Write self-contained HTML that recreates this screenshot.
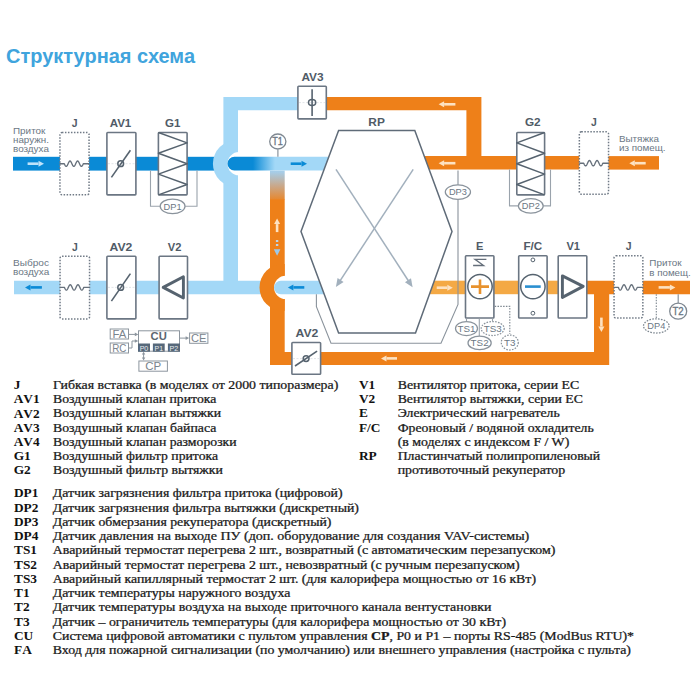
<!DOCTYPE html><html><head><meta charset="utf-8"><style>html,body{margin:0;padding:0;background:#fff;}svg{display:block;}</style></head><body><svg width="700" height="700" viewBox="0 0 700 700">
<defs><linearGradient id="gTop" x1="253" y1="0" x2="275" y2="0" gradientUnits="userSpaceOnUse"><stop offset="0" stop-color="#0a8ad6"/><stop offset="1" stop-color="#a3d8f7"/></linearGradient><linearGradient id="gVert" x1="0" y1="172" x2="0" y2="203" gradientUnits="userSpaceOnUse"><stop offset="0" stop-color="#a6cde8"/><stop offset="0.45" stop-color="#c9a88a"/><stop offset="1" stop-color="#ee8019"/></linearGradient><clipPath id="c1"><rect x="200" y="130" width="38" height="70"/></clipPath><clipPath id="c2"><rect x="245" y="255" width="39.7" height="70"/></clipPath><clipPath id="c1b"><rect x="200" y="130" width="39" height="70"/></clipPath><clipPath id="c2b"><rect x="245" y="255" width="40.7" height="70"/></clipPath></defs>
<rect width="700" height="700" fill="#fff"/>
<text x="6" y="63.1" font-family="Liberation Sans" font-weight="bold" font-size="20" fill="#40a4dd" textLength="189" lengthAdjust="spacingAndGlyphs">Структурная схема</text>
<rect x="13.00" y="156.80" width="207.00" height="13.80" fill="#0a8ad6" />
<path d="M223.4,97 H300 V110.3 H238 V280.7 H262 V294.2 H14 V280.7 H223.4 Z" fill="#a3d8f7"/>
<path d="M320,97 H481.4 V156.1 H579.5 V169.6 H400 V156.1 H466.4 V110.3 H320 Z" fill="#ee8019"/>
<rect x="605.00" y="156.10" width="54.00" height="13.50" fill="#ee8019" />
<circle cx="236.4" cy="163.7" r="23.5" fill="#a3d8f7" clip-path="url(#c1)"/>
<circle cx="239.1" cy="163.7" r="11.6" fill="#fff" clip-path="url(#c1b)"/>
<path d="M234.4,156.8 H335 V170.6 H234.4 A6.9,6.9 0 0 1 234.4,156.8 Z" fill="url(#gTop)"/>
<rect x="270.00" y="170.60" width="14.70" height="29.40" fill="url(#gVert)" />
<path d="M270,199.5 H284.7 V352 H594 V294.2 H572 V280.7 H690 V294.2 H609.2 V365 H270 Z" fill="#ee8019"/>
<circle cx="283" cy="287.45" r="23.5" fill="#ee8019" clip-path="url(#c2)"/>
<circle cx="285.7" cy="287.45" r="11.6" fill="#fff" clip-path="url(#c2b)"/>
<path d="M280.8,280.7 H330 V294.2 H280.8 A6.75,6.75 0 0 1 280.8,280.7 Z" fill="#a3d8f7"/>
<rect x="420.00" y="280.70" width="152.00" height="13.50" fill="#f4a945" />
<path d="M338.6,130.5 L414.8,130.5 L452,231.6 L415.5,332.9 L338.6,332.9 L301,231.6 Z" fill="#fff" stroke="#5f6b78" stroke-width="1.5"/>
<text x="376.60" y="126.30" text-anchor="middle" font-family="Liberation Sans" font-weight="bold" font-size="10.6" fill="#505b67" textLength="16.5" lengthAdjust="spacingAndGlyphs">RP</text>
<path d="M316.4,294.2 V306.6 L331,343.2 H441 L458,304.4 V170.6" stroke="#8a939c" stroke-width="1.1" fill="none" />
<line x1="336.00" y1="169.30" x2="408.52" y2="281.01" stroke="#a2b0bd" stroke-width="1.5" />
<path d="M412.60,287.30 L404.95,282.13 L410.99,278.21 Z" fill="#a2b0bd"/>
<line x1="413.20" y1="169.30" x2="340.01" y2="280.83" stroke="#a2b0bd" stroke-width="1.5" />
<path d="M335.90,287.10 L337.55,278.02 L343.57,281.97 Z" fill="#a2b0bd"/>
<rect x="59.95" y="132.55" width="29.10" height="62.30" rx="2" fill="#fff" stroke="#707a86" stroke-width="1.5" stroke-dasharray="1.5 1.5"/>
<path d="M59.80,163.70 L64.30,163.70 L64.62,164.40 L64.93,165.05 L65.25,165.61 L65.57,166.04 L65.88,166.31 L66.20,166.40 L66.52,166.31 L66.83,166.04 L67.15,165.61 L67.47,165.05 L67.79,164.40 L68.10,163.70 L68.42,163.00 L68.74,162.35 L69.05,161.79 L69.37,161.36 L69.69,161.09 L70.00,161.00 L70.32,161.09 L70.64,161.36 L70.96,161.79 L71.27,162.35 L71.59,163.00 L71.91,163.70 L72.22,164.40 L72.54,165.05 L72.86,165.61 L73.18,166.04 L73.49,166.31 L73.81,166.40 L74.13,166.31 L74.44,166.04 L74.76,165.61 L75.08,165.05 L75.39,164.40 L75.71,163.70 L76.03,163.00 L76.35,162.35 L76.66,161.79 L76.98,161.36 L77.30,161.09 L77.61,161.00 L77.93,161.09 L78.25,161.36 L78.56,161.79 L78.88,162.35 L79.20,163.00 L79.52,163.70 L79.83,164.40 L80.15,165.05 L80.47,165.61 L80.78,166.04 L81.10,166.31 L81.42,166.40 L81.73,166.31 L82.05,166.04 L82.37,165.61 L82.69,165.05 L83.00,164.40 L83.32,163.70 L89.20,163.70" stroke="#66707b" stroke-width="1.35" fill="none" stroke-linejoin="round"/>
<text x="74.60" y="127.30" text-anchor="middle" font-family="Liberation Sans" font-weight="bold" font-size="10.6" fill="#505b67" textLength="5.8" lengthAdjust="spacingAndGlyphs">J</text>
<rect x="106.90" y="132.50" width="29.00" height="62.40" rx="0.8" fill="#fff" stroke="#6b7683" stroke-width="1.6"/>
<line x1="108" y1="163.7" x2="135" y2="163.7" stroke="#d9dde2" stroke-width="0.8" stroke-dasharray="2 1.5"/>
<line x1="111.40" y1="177.40" x2="130.40" y2="150.30" stroke="#56636f" stroke-width="1.6" />
<circle cx="120.70" cy="163.70" r="2.9" fill="none" stroke="#56636f" stroke-width="1.5"/>
<text x="120.50" y="127.30" text-anchor="middle" font-family="Liberation Sans" font-weight="bold" font-size="10.6" fill="#505b67" textLength="21.6" lengthAdjust="spacingAndGlyphs">AV1</text>
<rect x="158.40" y="132.50" width="28.70" height="62.40" rx="0.8" fill="#fff" stroke="#6b7683" stroke-width="1.6"/>
<path d="M158.40,132.50 L187.10,142.90 L158.40,153.30 L187.10,163.70 L158.40,174.10 L187.10,184.50 L158.40,194.90" stroke="#56636f" stroke-width="1.5" fill="none" stroke-linejoin="round"/>
<text x="172.70" y="127.30" text-anchor="middle" font-family="Liberation Sans" font-weight="bold" font-size="10.6" fill="#505b67" textLength="15.4" lengthAdjust="spacingAndGlyphs">G1</text>
<path d="M150.5,170.6 V206.3 H197 V170.6" stroke="#9aa3ac" stroke-width="1.1" fill="none" />
<ellipse cx="172.60" cy="206.30" rx="12.4" ry="7.3" fill="#fff" stroke="#8a939c" stroke-width="1.25"/>
<text x="172.60" y="209.60" text-anchor="middle" font-family="Liberation Sans" font-size="9.0" fill="#6b7784" textLength="18" lengthAdjust="spacingAndGlyphs">DP1</text>
<rect x="297.90" y="86.20" width="28.40" height="32.70" rx="0.8" fill="#fff" stroke="#6b7683" stroke-width="1.6"/>
<line x1="299" y1="102.6" x2="325" y2="102.6" stroke="#d9dde2" stroke-width="0.8" stroke-dasharray="2 1.5"/>
<line x1="312.10" y1="89.30" x2="312.10" y2="116.00" stroke="#56636f" stroke-width="1.6" />
<ellipse cx="312.1" cy="102.6" rx="3.6" ry="3.0" fill="none" stroke="#56636f" stroke-width="1.5"/>
<text x="312.50" y="81.40" text-anchor="middle" font-family="Liberation Sans" font-weight="bold" font-size="10.6" fill="#505b67" textLength="22.2" lengthAdjust="spacingAndGlyphs">AV3</text>
<line x1="277.90" y1="149.50" x2="277.90" y2="156.80" stroke="#8a939c" stroke-width="1.2" />
<ellipse cx="277.8" cy="141.5" rx="8.1" ry="7.5" fill="#fff" stroke="#7f8891" stroke-width="1.3"/>
<text x="277.60" y="145.10" text-anchor="middle" font-family="Liberation Sans" font-size="10.2" fill="#6b7784" stroke="#6b7784" stroke-width="0.35" textLength="10.6" lengthAdjust="spacingAndGlyphs">T1</text>
<line x1="27.60" y1="163.70" x2="38.50" y2="163.70" stroke="#bfe3fa" stroke-width="2.6"/>
<path d="M44.00,163.70 L38.50,160.70 L38.50,166.70 Z" fill="#bfe3fa"/>
<line x1="290.70" y1="163.70" x2="301.50" y2="163.70" stroke="#0a8ad6" stroke-width="2.6"/>
<path d="M307.00,163.70 L301.50,160.70 L301.50,166.70 Z" fill="#0a8ad6"/>
<line x1="455.40" y1="104.30" x2="444.10" y2="104.30" stroke="#fde2c2" stroke-width="2.6"/>
<path d="M438.60,104.30 L444.10,101.30 L444.10,107.30 Z" fill="#fde2c2"/>
<line x1="455.40" y1="163.20" x2="444.10" y2="163.20" stroke="#fde2c2" stroke-width="2.6"/>
<path d="M438.60,163.20 L444.10,160.20 L444.10,166.20 Z" fill="#fde2c2"/>
<line x1="645.70" y1="163.20" x2="634.80" y2="163.20" stroke="#fde2c2" stroke-width="2.6"/>
<path d="M629.30,163.20 L634.80,160.20 L634.80,166.20 Z" fill="#fde2c2"/>
<ellipse cx="457.90" cy="192.10" rx="12.6" ry="7.3" fill="#fff" stroke="#8a939c" stroke-width="1.25"/>
<text x="457.90" y="195.40" text-anchor="middle" font-family="Liberation Sans" font-size="9.0" fill="#6b7784" textLength="18" lengthAdjust="spacingAndGlyphs">DP3</text>
<rect x="516.80" y="132.50" width="27.80" height="62.40" rx="0.8" fill="#fff" stroke="#6b7683" stroke-width="1.6"/>
<path d="M544.60,132.50 L516.80,142.90 L544.60,153.30 L516.80,163.70 L544.60,174.10 L516.80,184.50 L544.60,194.90" stroke="#56636f" stroke-width="1.5" fill="none" stroke-linejoin="round"/>
<text x="532.80" y="126.00" text-anchor="middle" font-family="Liberation Sans" font-weight="bold" font-size="10.6" fill="#505b67" textLength="15.7" lengthAdjust="spacingAndGlyphs">G2</text>
<path d="M509.5,169.6 V205.9 H550.5 V169.6" stroke="#9aa3ac" stroke-width="1.1" fill="none" />
<ellipse cx="530.80" cy="205.90" rx="12.4" ry="7.3" fill="#fff" stroke="#8a939c" stroke-width="1.25"/>
<text x="530.80" y="209.20" text-anchor="middle" font-family="Liberation Sans" font-size="9.0" fill="#6b7784" textLength="18" lengthAdjust="spacingAndGlyphs">DP2</text>
<rect x="579.35" y="131.85" width="29.20" height="62.40" rx="2" fill="#fff" stroke="#707a86" stroke-width="1.5" stroke-dasharray="1.5 1.5"/>
<path d="M579.20,163.20 L583.71,163.20 L584.03,163.90 L584.35,164.55 L584.67,165.11 L584.99,165.54 L585.30,165.81 L585.62,165.90 L585.94,165.81 L586.26,165.54 L586.58,165.11 L586.89,164.55 L587.21,163.90 L587.53,163.20 L587.85,162.50 L588.17,161.85 L588.49,161.29 L588.80,160.86 L589.12,160.59 L589.44,160.50 L589.76,160.59 L590.08,160.86 L590.39,161.29 L590.71,161.85 L591.03,162.50 L591.35,163.20 L591.67,163.90 L591.98,164.55 L592.30,165.11 L592.62,165.54 L592.94,165.81 L593.26,165.90 L593.57,165.81 L593.89,165.54 L594.21,165.11 L594.53,164.55 L594.85,163.90 L595.17,163.20 L595.48,162.50 L595.80,161.85 L596.12,161.29 L596.44,160.86 L596.76,160.59 L597.07,160.50 L597.39,160.59 L597.71,160.86 L598.03,161.29 L598.35,161.85 L598.66,162.50 L598.98,163.20 L599.30,163.90 L599.62,164.55 L599.94,165.11 L600.26,165.54 L600.57,165.81 L600.89,165.90 L601.21,165.81 L601.53,165.54 L601.85,165.11 L602.16,164.55 L602.48,163.90 L602.80,163.20 L608.70,163.20" stroke="#66707b" stroke-width="1.35" fill="none" stroke-linejoin="round"/>
<text x="593.80" y="125.70" text-anchor="middle" font-family="Liberation Sans" font-weight="bold" font-size="10.6" fill="#505b67" textLength="5.8" lengthAdjust="spacingAndGlyphs">J</text>
<text x="13.00" y="133.80" text-anchor="start" font-family="Liberation Sans" font-size="9.2" fill="#6b7784" textLength="32.4" lengthAdjust="spacingAndGlyphs">Приток</text>
<text x="13.00" y="142.70" text-anchor="start" font-family="Liberation Sans" font-size="9.2" fill="#6b7784" textLength="35.9" lengthAdjust="spacingAndGlyphs">наружн.</text>
<text x="13.00" y="151.60" text-anchor="start" font-family="Liberation Sans" font-size="9.2" fill="#6b7784" textLength="35.9" lengthAdjust="spacingAndGlyphs">воздуха</text>
<text x="618.90" y="141.50" text-anchor="start" font-family="Liberation Sans" font-size="9.2" fill="#6b7784" textLength="40.1" lengthAdjust="spacingAndGlyphs">Вытяжка</text>
<text x="618.90" y="150.70" text-anchor="start" font-family="Liberation Sans" font-size="9.2" fill="#6b7784" textLength="46.7" lengthAdjust="spacingAndGlyphs">из помещ.</text>
<rect x="60.05" y="256.15" width="29.50" height="62.80" rx="2" fill="#fff" stroke="#707a86" stroke-width="1.5" stroke-dasharray="1.5 1.5"/>
<path d="M59.90,287.40 L64.46,287.40 L64.78,288.10 L65.10,288.75 L65.42,289.31 L65.74,289.74 L66.07,290.01 L66.39,290.10 L66.71,290.01 L67.03,289.74 L67.35,289.31 L67.67,288.75 L67.99,288.10 L68.32,287.40 L68.64,286.70 L68.96,286.05 L69.28,285.49 L69.60,285.06 L69.92,284.79 L70.24,284.70 L70.56,284.79 L70.89,285.06 L71.21,285.49 L71.53,286.05 L71.85,286.70 L72.17,287.40 L72.49,288.10 L72.81,288.75 L73.14,289.31 L73.46,289.74 L73.78,290.01 L74.10,290.10 L74.42,290.01 L74.74,289.74 L75.06,289.31 L75.39,288.75 L75.71,288.10 L76.03,287.40 L76.35,286.70 L76.67,286.05 L76.99,285.49 L77.31,285.06 L77.63,284.79 L77.96,284.70 L78.28,284.79 L78.60,285.06 L78.92,285.49 L79.24,286.05 L79.56,286.70 L79.88,287.40 L80.21,288.10 L80.53,288.75 L80.85,289.31 L81.17,289.74 L81.49,290.01 L81.81,290.10 L82.13,290.01 L82.45,289.74 L82.78,289.31 L83.10,288.75 L83.42,288.10 L83.74,287.40 L89.70,287.40" stroke="#66707b" stroke-width="1.35" fill="none" stroke-linejoin="round"/>
<text x="74.80" y="250.70" text-anchor="middle" font-family="Liberation Sans" font-weight="bold" font-size="10.6" fill="#505b67" textLength="5.8" lengthAdjust="spacingAndGlyphs">J</text>
<rect x="106.90" y="256.20" width="29.00" height="62.70" rx="0.8" fill="#fff" stroke="#6b7683" stroke-width="1.6"/>
<line x1="108" y1="287.4" x2="135" y2="287.4" stroke="#d9dde2" stroke-width="0.8" stroke-dasharray="2 1.5"/>
<line x1="111.40" y1="301.10" x2="130.40" y2="273.60" stroke="#56636f" stroke-width="1.6" />
<circle cx="120.70" cy="287.40" r="2.9" fill="none" stroke="#56636f" stroke-width="1.5"/>
<text x="121.00" y="250.70" text-anchor="middle" font-family="Liberation Sans" font-weight="bold" font-size="10.6" fill="#505b67" textLength="22.8" lengthAdjust="spacingAndGlyphs">AV2</text>
<rect x="159.10" y="256.20" width="28.40" height="62.70" rx="0.8" fill="#fff" stroke="#6b7683" stroke-width="1.6"/>
<path d="M163.2,287.4 L183.4,276.8 L183.4,298.0 Z" stroke="#56636f" stroke-width="2.9" fill="none" stroke-linejoin="round"/>
<text x="174.60" y="250.70" text-anchor="middle" font-family="Liberation Sans" font-weight="bold" font-size="10.6" fill="#505b67" textLength="13.6" lengthAdjust="spacingAndGlyphs">V2</text>
<rect x="110.20" y="329.00" width="18.30" height="10.00" fill="#fff" stroke="#8c959e" stroke-width="1"/>
<text x="119.35" y="337.70" text-anchor="middle" font-family="Liberation Sans" font-size="10.5" fill="#7a848d" textLength="13.8" lengthAdjust="spacingAndGlyphs">FA</text>
<rect x="110.20" y="343.00" width="18.30" height="10.00" fill="#fff" stroke="#8c959e" stroke-width="1"/>
<text x="119.35" y="351.70" text-anchor="middle" font-family="Liberation Sans" font-size="10.5" fill="#7a848d" textLength="14.3" lengthAdjust="spacingAndGlyphs">RC</text>
<rect x="189.60" y="333.00" width="18.30" height="10.30" fill="#fff" stroke="#8c959e" stroke-width="1"/>
<text x="198.75" y="341.85" text-anchor="middle" font-family="Liberation Sans" font-size="10.5" fill="#7a848d" textLength="15.5" lengthAdjust="spacingAndGlyphs">CE</text>
<rect x="138.90" y="361.00" width="28.50" height="10.20" fill="#fff" stroke="#8c959e" stroke-width="1"/>
<text x="153.15" y="369.80" text-anchor="middle" font-family="Liberation Sans" font-size="10.5" fill="#7a848d" textLength="16" lengthAdjust="spacingAndGlyphs">CP</text>
<rect x="138.5" y="330.8" width="41" height="20.4" fill="#fff" stroke="#8c959e" stroke-width="1"/>
<text x="158.70" y="340.00" text-anchor="middle" font-family="Liberation Sans" font-weight="bold" font-size="10" fill="#5c6670" textLength="16.2" lengthAdjust="spacingAndGlyphs">CU</text>
<rect x="138.00" y="343.50" width="12.00" height="8.20" fill="#56687a" />
<text x="144.00" y="350.6" text-anchor="middle" font-family="Liberation Sans" font-size="7.6" fill="#e8ecf0" textLength="8.6" lengthAdjust="spacingAndGlyphs">P0</text>
<rect x="152.90" y="343.50" width="11.80" height="8.20" fill="#56687a" />
<text x="158.80" y="350.6" text-anchor="middle" font-family="Liberation Sans" font-size="7.6" fill="#e8ecf0" textLength="8.5" lengthAdjust="spacingAndGlyphs">P1</text>
<rect x="167.90" y="343.50" width="12.10" height="8.20" fill="#56687a" />
<text x="173.95" y="350.6" text-anchor="middle" font-family="Liberation Sans" font-size="7.6" fill="#e8ecf0" textLength="8.7" lengthAdjust="spacingAndGlyphs">P2</text>
<line x1="129.00" y1="334.40" x2="135.50" y2="334.40" stroke="#8c959e" stroke-width="1" />
<path d="M138.3,334.4 L134.8,332.6 L134.8,336.2 Z" fill="#8c959e"/>
<path d="M129,348 H132 V341 H135.5" stroke="#8c959e" stroke-width="1" fill="none" />
<path d="M138.3,341 L134.8,339.2 L134.8,342.8 Z" fill="#8c959e"/>
<line x1="180.00" y1="338.10" x2="186.30" y2="338.10" stroke="#8c959e" stroke-width="1" />
<path d="M189.1,338.1 L185.6,336.3 L185.6,339.9 Z" fill="#8c959e"/>
<line x1="143.60" y1="354.00" x2="143.60" y2="358.00" stroke="#8c959e" stroke-width="1" />
<path d="M143.6,351.7 L141.9,354.6 L145.3,354.6 Z M143.6,360.5 L141.9,357.6 L145.3,357.6 Z" fill="#8c959e"/>
<line x1="41.90" y1="287.40" x2="30.50" y2="287.40" stroke="#0a8ad6" stroke-width="2.6"/>
<path d="M25.00,287.40 L30.50,284.40 L30.50,290.40 Z" fill="#0a8ad6"/>
<line x1="304.30" y1="287.40" x2="293.40" y2="287.40" stroke="#0a8ad6" stroke-width="2.6"/>
<path d="M287.90,287.40 L293.40,284.40 L293.40,290.40 Z" fill="#0a8ad6"/>
<line x1="436.70" y1="287.70" x2="447.30" y2="287.70" stroke="#fde2c2" stroke-width="2.6"/>
<path d="M452.80,287.70 L447.30,284.70 L447.30,290.70 Z" fill="#fde2c2"/>
<line x1="658.60" y1="287.40" x2="669.90" y2="287.40" stroke="#fde2c2" stroke-width="2.6"/>
<path d="M675.40,287.40 L669.90,284.40 L669.90,290.40 Z" fill="#fde2c2"/>
<line x1="397.00" y1="358.40" x2="386.50" y2="358.40" stroke="#fde2c2" stroke-width="2.6"/>
<path d="M381.00,358.40 L386.50,355.40 L386.50,361.40 Z" fill="#fde2c2"/>
<line x1="277.10" y1="232.10" x2="277.10" y2="224.10" stroke="#fde2c2" stroke-width="2.6"/>
<path d="M277.10,218.60 L274.10,224.10 L280.10,224.10 Z" fill="#fde2c2"/>
<line x1="601.40" y1="317.60" x2="601.40" y2="326.50" stroke="#fde2c2" stroke-width="2.6"/>
<path d="M601.40,332.00 L598.40,326.50 L604.40,326.50 Z" fill="#fde2c2"/>
<rect x="275.90" y="240.00" width="2.40" height="2.00" fill="#bcd6ea" />
<rect x="275.90" y="244.00" width="2.40" height="2.00" fill="#bcd6ea" />
<path d="M273.8,249.3 L280.4,249.3 L277.1,255.7 Z" fill="#9cc9ea"/>
<rect x="291.90" y="342.50" width="28.70" height="31.70" rx="0.8" fill="#fff" stroke="#6b7683" stroke-width="1.6"/>
<line x1="293" y1="358.6" x2="319.5" y2="358.6" stroke="#d9dde2" stroke-width="0.8" stroke-dasharray="2 1.5"/>
<line x1="295.00" y1="366.00" x2="317.10" y2="351.10" stroke="#56636f" stroke-width="1.6" />
<circle cx="306.10" cy="358.60" r="2.9" fill="none" stroke="#56636f" stroke-width="1.5"/>
<text x="307.00" y="337.40" text-anchor="middle" font-family="Liberation Sans" font-weight="bold" font-size="10.6" fill="#505b67" textLength="22.8" lengthAdjust="spacingAndGlyphs">AV2</text>
<rect x="465.50" y="255.80" width="28.40" height="62.20" rx="0.8" fill="#fff" stroke="#6b7683" stroke-width="1.6"/>
<path d="M486.4,259.4 H475 L483.6,265.5 H473.1" stroke="#646e7a" stroke-width="1.3" fill="none" />
<circle cx="480" cy="286.6" r="12.2" fill="#fff" stroke="#56636f" stroke-width="1.5"/>
<path d="M471,286.6 H489 M480,279.5 V294" stroke="#e8922e" stroke-width="2.6" fill="none" />
<text x="479.70" y="250.00" text-anchor="middle" font-family="Liberation Sans" font-weight="bold" font-size="10.6" fill="#505b67" textLength="7.4" lengthAdjust="spacingAndGlyphs">E</text>
<rect x="518.70" y="255.80" width="28.40" height="62.20" rx="0.8" fill="#fff" stroke="#6b7683" stroke-width="1.6"/>
<circle cx="532.9" cy="286.6" r="12.2" fill="#fff" stroke="#56636f" stroke-width="1.5"/>
<line x1="525.00" y1="286.60" x2="540.70" y2="286.60" stroke="#2a8fd0" stroke-width="2.6" />
<circle cx="532.9" cy="259.9" r="1.9" fill="none" stroke="#56636f" stroke-width="1"/>
<circle cx="532.9" cy="313.2" r="1.9" fill="none" stroke="#56636f" stroke-width="1"/>
<text x="532.80" y="250.00" text-anchor="middle" font-family="Liberation Sans" font-weight="bold" font-size="10.6" fill="#505b67" textLength="18.8" lengthAdjust="spacingAndGlyphs">F/C</text>
<rect x="558.20" y="255.80" width="28.60" height="62.20" rx="0.8" fill="#fff" stroke="#6b7683" stroke-width="1.6"/>
<path d="M562.4,275.9 L583.2,286.4 L562.4,297.4 Z" stroke="#56636f" stroke-width="2.9" fill="none" stroke-linejoin="round"/>
<text x="573.20" y="250.00" text-anchor="middle" font-family="Liberation Sans" font-weight="bold" font-size="10.6" fill="#505b67" textLength="13.6" lengthAdjust="spacingAndGlyphs">V1</text>
<rect x="614.05" y="255.75" width="28.80" height="62.30" rx="2" fill="#fff" stroke="#707a86" stroke-width="1.5" stroke-dasharray="1.5 1.5"/>
<path d="M613.90,287.40 L618.35,287.40 L618.67,288.10 L618.98,288.75 L619.29,289.31 L619.61,289.74 L619.92,290.01 L620.24,290.10 L620.55,290.01 L620.86,289.74 L621.18,289.31 L621.49,288.75 L621.80,288.10 L622.12,287.40 L622.43,286.70 L622.75,286.05 L623.06,285.49 L623.37,285.06 L623.69,284.79 L624.00,284.70 L624.31,284.79 L624.63,285.06 L624.94,285.49 L625.26,286.05 L625.57,286.70 L625.88,287.40 L626.20,288.10 L626.51,288.75 L626.82,289.31 L627.14,289.74 L627.45,290.01 L627.77,290.10 L628.08,290.01 L628.39,289.74 L628.71,289.31 L629.02,288.75 L629.34,288.10 L629.65,287.40 L629.96,286.70 L630.28,286.05 L630.59,285.49 L630.90,285.06 L631.22,284.79 L631.53,284.70 L631.85,284.79 L632.16,285.06 L632.47,285.49 L632.79,286.05 L633.10,286.70 L633.41,287.40 L633.73,288.10 L634.04,288.75 L634.36,289.31 L634.67,289.74 L634.98,290.01 L635.30,290.10 L635.61,290.01 L635.92,289.74 L636.24,289.31 L636.55,288.75 L636.87,288.10 L637.18,287.40 L643.00,287.40" stroke="#66707b" stroke-width="1.35" fill="none" stroke-linejoin="round"/>
<text x="628.60" y="250.00" text-anchor="middle" font-family="Liberation Sans" font-weight="bold" font-size="10.6" fill="#505b67" textLength="5.8" lengthAdjust="spacingAndGlyphs">J</text>
<line x1="678.20" y1="294.20" x2="678.20" y2="303.00" stroke="#8a939c" stroke-width="1.2" />
<ellipse cx="678.2" cy="311.2" rx="8.5" ry="8.0" fill="#fff" stroke="#7f8891" stroke-width="1.3"/>
<text x="678.00" y="314.80" text-anchor="middle" font-family="Liberation Sans" font-size="10.2" fill="#6b7784" stroke="#6b7784" stroke-width="0.35" textLength="11.2" lengthAdjust="spacingAndGlyphs">T2</text>
<line x1="656.30" y1="294.20" x2="656.30" y2="318.80" stroke="#7d8790" stroke-width="1.1" stroke-dasharray="1.5 1.3"/>
<ellipse cx="656.30" cy="325.90" rx="12.8" ry="7.1" fill="#fff" stroke="#7d8790" stroke-width="1.25" stroke-dasharray="1.6 1.3"/>
<text x="656.30" y="329.20" text-anchor="middle" font-family="Liberation Sans" font-size="9.0" fill="#6b7784" textLength="18" lengthAdjust="spacingAndGlyphs">DP4</text>
<line x1="466.50" y1="318.80" x2="466.50" y2="321.50" stroke="#9aa3ac" stroke-width="1.1" />
<line x1="479.30" y1="318.80" x2="479.30" y2="336.20" stroke="#9aa3ac" stroke-width="1.1" />
<line x1="492.50" y1="318.80" x2="492.50" y2="321.50" stroke="#9aa3ac" stroke-width="1.1" />
<ellipse cx="466.50" cy="328.50" rx="11" ry="7" fill="#fff" stroke="#8a939c" stroke-width="1.25"/>
<text x="466.50" y="331.80" text-anchor="middle" font-family="Liberation Sans" font-size="9.0" fill="#6b7784" textLength="18" lengthAdjust="spacingAndGlyphs">TS1</text>
<ellipse cx="492.70" cy="328.50" rx="11.5" ry="7" fill="#fff" stroke="#8a939c" stroke-width="1.25" stroke-dasharray="1.6 1.3"/>
<text x="492.70" y="331.80" text-anchor="middle" font-family="Liberation Sans" font-size="9.0" fill="#6b7784" textLength="18" lengthAdjust="spacingAndGlyphs">TS3</text>
<ellipse cx="479.60" cy="342.90" rx="11.6" ry="6.7" fill="#fff" stroke="#8a939c" stroke-width="1.25"/>
<text x="479.60" y="346.20" text-anchor="middle" font-family="Liberation Sans" font-size="9.0" fill="#6b7784" textLength="18" lengthAdjust="spacingAndGlyphs">TS2</text>
<path d="M494.7,306.4 H509.8 V334" stroke="#7d8790" stroke-width="1.1" fill="none" stroke-dasharray="1.5 1.3"/>
<ellipse cx="509.80" cy="342.50" rx="8.5" ry="7.5" fill="#fff" stroke="#8a939c" stroke-width="1.25" stroke-dasharray="1.6 1.3"/>
<text x="509.80" y="345.80" text-anchor="middle" font-family="Liberation Sans" font-size="9.0" fill="#6b7784" textLength="11.5" lengthAdjust="spacingAndGlyphs">T3</text>
<text x="13.00" y="265.70" text-anchor="start" font-family="Liberation Sans" font-size="9.2" fill="#6b7784" textLength="36.0" lengthAdjust="spacingAndGlyphs">Выброс</text>
<text x="13.00" y="274.70" text-anchor="start" font-family="Liberation Sans" font-size="9.2" fill="#6b7784" textLength="36.2" lengthAdjust="spacingAndGlyphs">воздуха</text>
<text x="649.30" y="266.40" text-anchor="start" font-family="Liberation Sans" font-size="9.2" fill="#6b7784" textLength="32.4" lengthAdjust="spacingAndGlyphs">Приток</text>
<text x="649.30" y="275.70" text-anchor="start" font-family="Liberation Sans" font-size="9.2" fill="#6b7784" textLength="41.5" lengthAdjust="spacingAndGlyphs">в помещ.</text>
<text x="13.70" y="389.10" font-family="Liberation Serif" font-weight="bold" font-size="13.35" fill="#111" style="font-kerning:none" transform="matrix(1 0 0 0.8580 0 55.261)">J</text>
<text x="53.00" y="389.10" font-family="Liberation Serif" font-size="13.8" fill="#1a1a1a" stroke="#1a1a1a" stroke-width="0.3" textLength="285.3" lengthAdjust="spacingAndGlyphs" transform="matrix(1 0 0 0.83 0 66.147)">Гибкая вставка (в моделях от 2000 типоразмера)</text>
<text x="13.70" y="403.30" font-family="Liberation Serif" font-weight="bold" font-size="13.35" fill="#111" style="font-kerning:none" transform="matrix(1 0 0 0.8580 0 57.278)">AV1</text>
<text x="53.00" y="403.30" font-family="Liberation Serif" font-size="13.8" fill="#1a1a1a" stroke="#1a1a1a" stroke-width="0.3" textLength="163.3" lengthAdjust="spacingAndGlyphs" transform="matrix(1 0 0 0.83 0 68.561)">Воздушный клапан притока</text>
<text x="13.70" y="417.50" font-family="Liberation Serif" font-weight="bold" font-size="13.35" fill="#111" style="font-kerning:none" transform="matrix(1 0 0 0.8580 0 59.294)">AV2</text>
<text x="53.00" y="417.50" font-family="Liberation Serif" font-size="13.8" fill="#1a1a1a" stroke="#1a1a1a" stroke-width="0.3" textLength="168.1" lengthAdjust="spacingAndGlyphs" transform="matrix(1 0 0 0.83 0 70.975)">Воздушный клапан вытяжки</text>
<text x="13.70" y="431.70" font-family="Liberation Serif" font-weight="bold" font-size="13.35" fill="#111" style="font-kerning:none" transform="matrix(1 0 0 0.8580 0 61.311)">AV3</text>
<text x="53.00" y="431.70" font-family="Liberation Serif" font-size="13.8" fill="#1a1a1a" stroke="#1a1a1a" stroke-width="0.3" textLength="163.3" lengthAdjust="spacingAndGlyphs" transform="matrix(1 0 0 0.83 0 73.389)">Воздушный клапан байпаса</text>
<text x="13.70" y="445.90" font-family="Liberation Serif" font-weight="bold" font-size="13.35" fill="#111" style="font-kerning:none" transform="matrix(1 0 0 0.8580 0 63.328)">AV4</text>
<text x="53.00" y="445.90" font-family="Liberation Serif" font-size="13.8" fill="#1a1a1a" stroke="#1a1a1a" stroke-width="0.3" textLength="183.6" lengthAdjust="spacingAndGlyphs" transform="matrix(1 0 0 0.83 0 75.803)">Воздушный клапан разморозки</text>
<text x="13.70" y="460.10" font-family="Liberation Serif" font-weight="bold" font-size="13.35" fill="#111" style="font-kerning:none" transform="matrix(1 0 0 0.8580 0 65.345)">G1</text>
<text x="53.00" y="460.10" font-family="Liberation Serif" font-size="13.8" fill="#1a1a1a" stroke="#1a1a1a" stroke-width="0.3" textLength="165.1" lengthAdjust="spacingAndGlyphs" transform="matrix(1 0 0 0.83 0 78.217)">Воздушный фильтр притока</text>
<text x="13.70" y="474.30" font-family="Liberation Serif" font-weight="bold" font-size="13.35" fill="#111" style="font-kerning:none" transform="matrix(1 0 0 0.8580 0 67.361)">G2</text>
<text x="53.00" y="474.30" font-family="Liberation Serif" font-size="13.8" fill="#1a1a1a" stroke="#1a1a1a" stroke-width="0.3" textLength="169.9" lengthAdjust="spacingAndGlyphs" transform="matrix(1 0 0 0.83 0 80.631)">Воздушный фильтр вытяжки</text>
<text x="358.90" y="389.00" font-family="Liberation Serif" font-weight="bold" font-size="13.35" fill="#111" style="font-kerning:none" transform="matrix(1 0 0 0.8580 0 55.247)">V1</text>
<text x="397.70" y="389.00" font-family="Liberation Serif" font-size="13.8" fill="#1a1a1a" stroke="#1a1a1a" stroke-width="0.3" textLength="181.5" lengthAdjust="spacingAndGlyphs" transform="matrix(1 0 0 0.83 0 66.130)">Вентилятор притока, серии EC</text>
<text x="358.90" y="403.20" font-family="Liberation Serif" font-weight="bold" font-size="13.35" fill="#111" style="font-kerning:none" transform="matrix(1 0 0 0.8580 0 57.263)">V2</text>
<text x="397.70" y="403.20" font-family="Liberation Serif" font-size="13.8" fill="#1a1a1a" stroke="#1a1a1a" stroke-width="0.3" textLength="185.1" lengthAdjust="spacingAndGlyphs" transform="matrix(1 0 0 0.83 0 68.544)">Вентилятор вытяжки, серии EC</text>
<text x="358.90" y="417.40" font-family="Liberation Serif" font-weight="bold" font-size="13.35" fill="#111" style="font-kerning:none" transform="matrix(1 0 0 0.8580 0 59.280)">E</text>
<text x="397.70" y="417.40" font-family="Liberation Serif" font-size="13.8" fill="#1a1a1a" stroke="#1a1a1a" stroke-width="0.3" textLength="162.0" lengthAdjust="spacingAndGlyphs" transform="matrix(1 0 0 0.83 0 70.958)">Электрический нагреватель</text>
<text x="358.90" y="431.60" font-family="Liberation Serif" font-weight="bold" font-size="13.35" fill="#111" style="font-kerning:none" transform="matrix(1 0 0 0.8580 0 61.297)">F/C</text>
<text x="397.70" y="431.60" font-family="Liberation Serif" font-size="13.8" fill="#1a1a1a" stroke="#1a1a1a" stroke-width="0.3" textLength="196.0" lengthAdjust="spacingAndGlyphs" transform="matrix(1 0 0 0.83 0 73.372)">Фреоновый / водяной охладитель</text>
<text x="358.90" y="445.80" font-family="Liberation Serif" font-weight="bold" font-size="13.35" fill="#111" style="font-kerning:none" transform="matrix(1 0 0 0.8580 0 63.314)"></text>
<text x="397.70" y="445.80" font-family="Liberation Serif" font-size="13.8" fill="#1a1a1a" stroke="#1a1a1a" stroke-width="0.3" textLength="171.6" lengthAdjust="spacingAndGlyphs" transform="matrix(1 0 0 0.83 0 75.786)">(в моделях с индексом F / W)</text>
<text x="358.90" y="460.00" font-family="Liberation Serif" font-weight="bold" font-size="13.35" fill="#111" style="font-kerning:none" transform="matrix(1 0 0 0.8580 0 65.330)">RP</text>
<text x="397.70" y="460.00" font-family="Liberation Serif" font-size="13.8" fill="#1a1a1a" stroke="#1a1a1a" stroke-width="0.3" textLength="202.5" lengthAdjust="spacingAndGlyphs" transform="matrix(1 0 0 0.83 0 78.200)">Пластинчатый полипропиленовый</text>
<text x="358.90" y="474.20" font-family="Liberation Serif" font-weight="bold" font-size="13.35" fill="#111" style="font-kerning:none" transform="matrix(1 0 0 0.8580 0 67.347)"></text>
<text x="397.70" y="474.20" font-family="Liberation Serif" font-size="13.8" fill="#1a1a1a" stroke="#1a1a1a" stroke-width="0.3" textLength="167.5" lengthAdjust="spacingAndGlyphs" transform="matrix(1 0 0 0.83 0 80.614)">противоточный рекуператор</text>
<text x="14.00" y="497.40" font-family="Liberation Serif" font-weight="bold" font-size="13.35" fill="#111" style="font-kerning:none" transform="matrix(1 0 0 0.8580 0 70.642)">DP1</text>
<text x="52.80" y="497.40" font-family="Liberation Serif" font-size="13.8" fill="#1a1a1a" stroke="#1a1a1a" stroke-width="0.3" textLength="289.8" lengthAdjust="spacingAndGlyphs" transform="matrix(1 0 0 0.83 0 84.558)">Датчик загрязнения фильтра притока (цифровой)</text>
<text x="14.00" y="511.64" font-family="Liberation Serif" font-weight="bold" font-size="13.35" fill="#111" style="font-kerning:none" transform="matrix(1 0 0 0.8580 0 72.664)">DP2</text>
<text x="52.80" y="511.64" font-family="Liberation Serif" font-size="13.8" fill="#1a1a1a" stroke="#1a1a1a" stroke-width="0.3" textLength="306.1" lengthAdjust="spacingAndGlyphs" transform="matrix(1 0 0 0.83 0 86.979)">Датчик загрязнения фильтра вытяжки (дискретный)</text>
<text x="14.00" y="525.88" font-family="Liberation Serif" font-weight="bold" font-size="13.35" fill="#111" style="font-kerning:none" transform="matrix(1 0 0 0.8580 0 74.687)">DP3</text>
<text x="52.80" y="525.88" font-family="Liberation Serif" font-size="13.8" fill="#1a1a1a" stroke="#1a1a1a" stroke-width="0.3" textLength="278.6" lengthAdjust="spacingAndGlyphs" transform="matrix(1 0 0 0.83 0 89.400)">Датчик обмерзания рекуператора (дискретный)</text>
<text x="14.00" y="540.12" font-family="Liberation Serif" font-weight="bold" font-size="13.35" fill="#111" style="font-kerning:none" transform="matrix(1 0 0 0.8580 0 76.709)">DP4</text>
<text x="52.80" y="540.12" font-family="Liberation Serif" font-size="13.8" fill="#1a1a1a" stroke="#1a1a1a" stroke-width="0.3" textLength="476.5" lengthAdjust="spacingAndGlyphs" transform="matrix(1 0 0 0.83 0 91.820)">Датчик давления на выходе ПУ (доп. оборудование для создания VAV-системы)</text>
<text x="14.00" y="554.36" font-family="Liberation Serif" font-weight="bold" font-size="13.35" fill="#111" style="font-kerning:none" transform="matrix(1 0 0 0.8580 0 78.732)">TS1</text>
<text x="52.80" y="554.36" font-family="Liberation Serif" font-size="13.8" fill="#1a1a1a" stroke="#1a1a1a" stroke-width="0.3" textLength="502.6" lengthAdjust="spacingAndGlyphs" transform="matrix(1 0 0 0.83 0 94.241)">Аварийный термостат перегрева 2 шт., возвратный (с автоматическим перезапуском)</text>
<text x="14.00" y="568.60" font-family="Liberation Serif" font-weight="bold" font-size="13.35" fill="#111" style="font-kerning:none" transform="matrix(1 0 0 0.8580 0 80.754)">TS2</text>
<text x="52.80" y="568.60" font-family="Liberation Serif" font-size="13.8" fill="#1a1a1a" stroke="#1a1a1a" stroke-width="0.3" textLength="466.9" lengthAdjust="spacingAndGlyphs" transform="matrix(1 0 0 0.83 0 96.662)">Аварийный термостат перегрева 2 шт., невозвратный (с ручным перезапуском)</text>
<text x="14.00" y="582.84" font-family="Liberation Serif" font-weight="bold" font-size="13.35" fill="#111" style="font-kerning:none" transform="matrix(1 0 0 0.8580 0 82.776)">TS3</text>
<text x="52.80" y="582.84" font-family="Liberation Serif" font-size="13.8" fill="#1a1a1a" stroke="#1a1a1a" stroke-width="0.3" textLength="483.2" lengthAdjust="spacingAndGlyphs" transform="matrix(1 0 0 0.83 0 99.083)">Аварийный капиллярный термостат 2 шт. (для калорифера мощностью от 16 кВт)</text>
<text x="14.00" y="597.08" font-family="Liberation Serif" font-weight="bold" font-size="13.35" fill="#111" style="font-kerning:none" transform="matrix(1 0 0 0.8580 0 84.799)">T1</text>
<text x="52.80" y="597.08" font-family="Liberation Serif" font-size="13.8" fill="#1a1a1a" stroke="#1a1a1a" stroke-width="0.3" textLength="237.5" lengthAdjust="spacingAndGlyphs" transform="matrix(1 0 0 0.83 0 101.504)">Датчик температуры наружного воздуха</text>
<text x="14.00" y="611.32" font-family="Liberation Serif" font-weight="bold" font-size="13.35" fill="#111" style="font-kerning:none" transform="matrix(1 0 0 0.8580 0 86.821)">T2</text>
<text x="52.80" y="611.32" font-family="Liberation Serif" font-size="13.8" fill="#1a1a1a" stroke="#1a1a1a" stroke-width="0.3" textLength="438.6" lengthAdjust="spacingAndGlyphs" transform="matrix(1 0 0 0.83 0 103.924)">Датчик температуры воздуха на выходе приточного канала вентустановки</text>
<text x="14.00" y="625.56" font-family="Liberation Serif" font-weight="bold" font-size="13.35" fill="#111" style="font-kerning:none" transform="matrix(1 0 0 0.8580 0 88.844)">T3</text>
<text x="52.80" y="625.56" font-family="Liberation Serif" font-size="13.8" fill="#1a1a1a" stroke="#1a1a1a" stroke-width="0.3" textLength="453.2" lengthAdjust="spacingAndGlyphs" transform="matrix(1 0 0 0.83 0 106.345)">Датчик – ограничитель температуры (для калорифера мощностью от 30 кВт)</text>
<text x="14.00" y="639.80" font-family="Liberation Serif" font-weight="bold" font-size="13.35" fill="#111" style="font-kerning:none" transform="matrix(1 0 0 0.8580 0 90.866)">CU</text>
<text x="52.80" y="639.80" font-family="Liberation Serif" font-size="13.8" fill="#1a1a1a" stroke="#1a1a1a" stroke-width="0.3" textLength="581.2" lengthAdjust="spacingAndGlyphs" transform="matrix(1 0 0 0.83 0 108.766)">Система цифровой автоматики с пультом управления <tspan font-weight="bold">CP</tspan>, P0 и P1 – порты RS-485 (ModBus RTU)*</text>
<text x="14.00" y="654.04" font-family="Liberation Serif" font-weight="bold" font-size="13.35" fill="#111" style="font-kerning:none" transform="matrix(1 0 0 0.8580 0 92.888)">FA</text>
<text x="52.80" y="654.04" font-family="Liberation Serif" font-size="13.8" fill="#1a1a1a" stroke="#1a1a1a" stroke-width="0.3" textLength="578.1" lengthAdjust="spacingAndGlyphs" transform="matrix(1 0 0 0.83 0 111.187)">Вход для пожарной сигнализации (по умолчанию) или внешнего управления (настройка с пульта)</text></svg></body></html>
